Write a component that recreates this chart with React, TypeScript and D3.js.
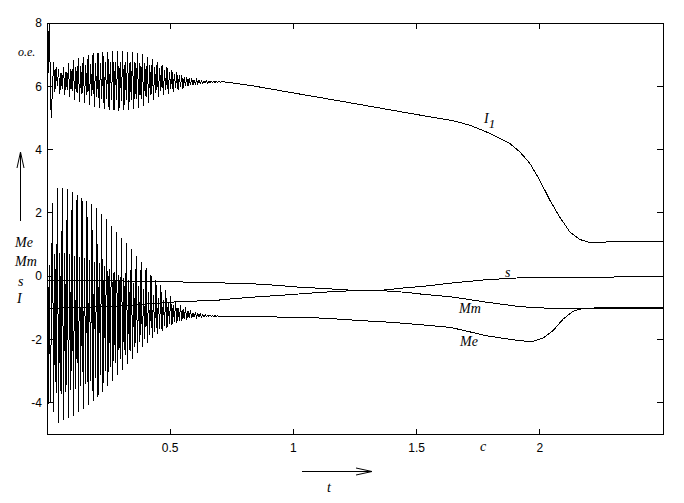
import React from "react";
import * as d3 from "d3";

const W = 684;
const H = 503;
const PL = 47, PR = 663, PT = 23, PB = 434.5;

const xTicks = [0.5, 1, 1.5, 2];
const yTicks = [-4, -2, 0, 2, 4, 6, 8];

const cyclePeriod = 0.02;

// ---- I1 ----
const i1StartT = [0, 0.004, 0.009, 0.017];
const i1StartV = [8.0, 6.4, 8.0, 5.0];
const i1CycleStart = 0.027;
const i1Max = [6.78, 6.56, 6.62, 6.72, 6.83, 6.88, 6.93, 6.99, 7.04, 7.06, 7.09, 7.09, 7.11, 7.11, 7.11, 7.09, 7.09, 7.06, 7.02, 6.93, 6.85, 6.78, 6.67, 6.6, 6.51, 6.44, 6.36, 6.3, 6.25, 6.21, 6.18, 6.17, 6.16, 6.155];
const i1Min = [5.83, 5.77, 5.72, 5.67, 5.58, 5.51, 5.46, 5.4, 5.35, 5.3, 5.27, 5.25, 5.25, 5.22, 5.25, 5.25, 5.27, 5.3, 5.37, 5.46, 5.56, 5.67, 5.72, 5.77, 5.83, 5.88, 5.93, 6.0, 6.03, 6.07, 6.1, 6.11, 6.12, 6.13];
const i1Max2 = [6.61, 6.42, 6.46, 6.54, 6.61, 6.64, 6.67, 6.71, 6.74, 6.75, 6.77, 6.77, 6.78, 6.78, 6.78, 6.77, 6.77, 6.75, 6.73, 6.67, 6.62, 6.59, 6.5, 6.46, 6.39, 6.34, 6.28, 6.25, 6.21, 6.19, 6.17, 6.16, 6.155, 6.15];
const i1Min2 = [6.0, 5.91, 5.88, 5.85, 5.8, 5.75, 5.72, 5.68, 5.65, 5.61, 5.59, 5.57, 5.58, 5.55, 5.58, 5.57, 5.59, 5.61, 5.66, 5.72, 5.79, 5.86, 5.89, 5.92, 5.95, 5.98, 6.01, 6.05, 6.07, 6.09, 6.11, 6.12, 6.125, 6.135];
const i1SlowT = [0.72, 0.824, 1.0, 1.23, 1.514, 1.649, 1.717, 1.798, 1.838, 1.879, 1.919, 1.96, 2.0, 2.041, 2.081, 2.122, 2.163, 2.203, 2.256, 2.5];
const i1SlowV = [6.14, 6.03, 5.79, 5.48, 5.09, 4.91, 4.77, 4.51, 4.35, 4.19, 3.93, 3.56, 3.03, 2.4, 1.87, 1.4, 1.16, 1.06, 1.08, 1.1];

// ---- Me ----
const meStartT = [0, 0.004, 0.009, 0.014, 0.022, 0.027, 0.032, 0.037];
const meStartV = [0, -4.15, 0.35, -4.0, 2.3, -4.3, 0.7, -3.7];
const meCycleStart = 0.042;
const meMax = [2.8, 2.8, 2.75, 2.65, 2.58, 2.48, 2.38, 2.27, 2.15, 1.98, 1.8, 1.6, 1.4, 1.2, 1.05, 0.85, 0.65, 0.45, 0.25, 0.05, -0.12, -0.28, -0.45, -0.62, -0.77, -0.9, -0.98, -1.08, -1.14, -1.19, -1.22, -1.24, -1.25];
const meMin = [-4.65, -4.55, -4.48, -4.4, -4.3, -4.2, -4.07, -3.93, -3.8, -3.65, -3.48, -3.3, -3.12, -2.95, -2.78, -2.6, -2.42, -2.25, -2.1, -1.95, -1.83, -1.72, -1.62, -1.54, -1.47, -1.42, -1.37, -1.33, -1.3, -1.28, -1.27, -1.27, -1.27];
const meMax2 = [0.74, 0.73, 0.7, 0.65, 0.62, 0.57, 0.52, 0.46, 0.41, 0.32, 0.24, 0.14, 0.05, -0.05, -0.12, -0.22, -0.31, -0.41, -0.5, -0.6, -0.68, -0.76, -0.83, -0.92, -0.99, -1.05, -1.1, -1.15, -1.18, -1.21, -1.235, -1.25, -1.255];
const meMin2 = [-3.73, -3.65, -3.6, -3.55, -3.47, -3.4, -3.31, -3.2, -3.11, -3.0, -2.87, -2.74, -2.61, -2.48, -2.36, -2.22, -2.09, -1.97, -1.86, -1.75, -1.66, -1.58, -1.5, -1.45, -1.4, -1.36, -1.33, -1.3, -1.28, -1.27, -1.265, -1.265, -1.265];
const meSlowT = [0.71, 0.85, 1.054, 1.176, 1.27, 1.405, 1.514, 1.64, 1.784, 1.919, 1.972, 2.014, 2.054, 2.095, 2.135, 2.176, 2.25, 2.5];
const meSlowV = [-1.27, -1.28, -1.3, -1.35, -1.4, -1.46, -1.53, -1.62, -1.88, -2.04, -2.06, -1.95, -1.72, -1.35, -1.11, -1.01, -1.0, -1.0];

// ---- Mm ----
const mmT = [0, 0.3, 0.354, 0.5, 0.703, 0.743, 0.837, 0.973, 1.108, 1.23, 1.35, 1.46, 1.514, 1.649, 1.784, 1.919, 2.0, 2.081, 2.5];
const mmV = [-1.02, -0.94, -0.91, -0.82, -0.75, -0.72, -0.66, -0.59, -0.51, -0.46, -0.45, -0.51, -0.56, -0.66, -0.82, -0.96, -1.0, -1.02, -1.02];

// ---- s ----
const sT = [0, 0.3, 0.487, 0.703, 0.837, 0.938, 1.027, 1.108, 1.23, 1.35, 1.46, 1.514, 1.649, 1.784, 1.919, 2.054, 2.5];
const sV = [-0.14, -0.15, -0.17, -0.21, -0.24, -0.29, -0.35, -0.38, -0.44, -0.45, -0.36, -0.33, -0.21, -0.11, -0.05, -0.03, -0.02];

type P = [number, number];

function buildOsc(
  startT: number[], startV: number[], c0: number,
  a: number[], b: number[], c: number[], d: number[],
  slowT: number[], slowV: number[]
): P[] {
  const pts: P[] = startT.map((t, i) => [t, startV[i]] as P);
  const q = cyclePeriod / 4;
  a.forEach((_, k) => {
    const tb = c0 + k * cyclePeriod;
    pts.push([tb, a[k]]);
    pts.push([tb + q, b[k]]);
    pts.push([tb + 2 * q, c[k]]);
    pts.push([tb + 3 * q, d[k]]);
  });
  slowT.forEach((t, i) => pts.push([t, slowV[i]]));
  return pts;
}

export default function App() {
  const x = d3.scaleLinear().domain([0, 2.5]).range([PL, PR]);
  const y = d3.scaleLinear().domain([-5, 8]).range([PB, PT]);
  const line = d3.line<P>().x((d) => x(d[0])).y((d) => y(d[1]));

  const i1 = buildOsc(i1StartT, i1StartV, i1CycleStart, i1Max, i1Min, i1Max2, i1Min2, i1SlowT, i1SlowV);
  const me = buildOsc(meStartT, meStartV, meCycleStart, meMax, meMin, meMax2, meMin2, meSlowT, meSlowV);
  const mm: P[] = mmT.map((t, i) => [t, mmV[i]]);
  const s: P[] = sT.map((t, i) => [t, sV[i]]);

  const tickFont = "'Liberation Sans', Arial, sans-serif";
  const labFont = "'Liberation Serif', 'Times New Roman', serif";

  return (
    <svg width={W} height={H} style={{ position: "absolute", left: 0, top: 0, background: "#fff" }}>
      <defs>
        <clipPath id="plot">
          <rect x={PL} y={PT} width={PR - PL} height={PB - PT} />
        </clipPath>
      </defs>
      <rect x={0} y={0} width={W} height={H} fill="#fff" />
      <g clipPath="url(#plot)" fill="none" stroke="#000" strokeWidth={1} shapeRendering="crispEdges">
        <path d={line(mm) || ""} />
        <path d={line(s) || ""} />
        <path d={line(me) || ""} />
        <path d={line(i1) || ""} />
      </g>
      <rect x={PL} y={PT} width={PR - PL} height={PB - PT} fill="none" stroke="#000" strokeWidth={1} shapeRendering="crispEdges" />
      <g stroke="#000" strokeWidth={1} shapeRendering="crispEdges">
        {yTicks.map((v) => (
          <g key={"yt" + v}>
            <line x1={PL} x2={PL + 6} y1={y(v)} y2={y(v)} />
            <line x1={PR} x2={PR - 6} y1={y(v)} y2={y(v)} />
          </g>
        ))}
        {xTicks.map((v) => (
          <g key={"xt" + v}>
            <line x1={x(v)} x2={x(v)} y1={PB} y2={PB - 6} />
            <line x1={x(v)} x2={x(v)} y1={PT} y2={PT + 6} />
          </g>
        ))}
      </g>
      <g fontFamily={tickFont} fontSize={12} fill="#000">
        {yTicks.map((v) => (
          <text key={"yl" + v} x={PL - 5} y={y(v)} dy="0.35em" textAnchor="end">{v}</text>
        ))}
        {xTicks.map((v) => (
          <text key={"xl" + v} x={x(v)} y={PB + 13} dy="0.35em" textAnchor="middle">{v}</text>
        ))}
      </g>
      <g fontFamily={labFont} fontStyle="italic" fontSize={14} fill="#000">
        <text x={18} y={56} fontSize={12}>o.e.</text>
        <text x={15} y={247}>Me</text>
        <text x={15} y={266}>Mm</text>
        <text x={18} y={286}>s</text>
        <text x={17} y={303}>I</text>
        <text x={484} y={123}>I<tspan fontSize={13} dy={5}>1</tspan></text>
        <text x={505} y={277}>s</text>
        <text x={459} y={313}>Mm</text>
        <text x={460} y={346}>Me</text>
        <text x={480} y={451}>c</text>
        <text x={327} y={492}>t</text>
      </g>
      <g stroke="#000" strokeWidth={1} fill="none">
        <line x1={20.5} x2={20.5} y1={221} y2={152} />
        <polyline points="17,168 20.5,152 24,168" />
        <line x1={302} x2={372} y1={471.5} y2={471.5} />
        <polyline points="356,468 372,471.5 356,475" />
      </g>
    </svg>
  );
}
